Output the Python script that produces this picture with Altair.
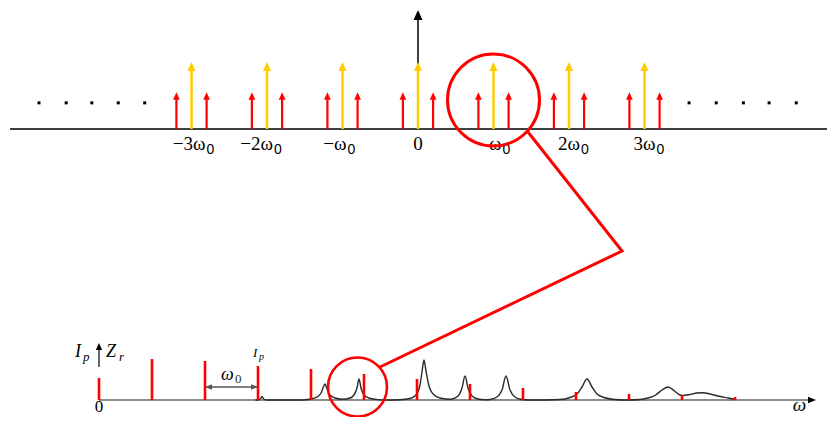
import altair as alt
import pandas as pd

# ---------------- data: upper spectrum (units of omega_0, relative amplitude) ----------
harmonics = [-3, -2, -1, 0, 1, 2, 3]
carrier_amp = [1.0, 1.0, 1.0, 1.0, 1.0, 1.0, 1.0]
sideband_offset = 0.2
sideband_amp = [0.55, 0.55, 0.55, 0.55, 0.55, 0.55, 0.55]
tick_main = ["−3ω", "−2ω", "−ω", "0", "ω", "2ω", "3ω"]
tick_sub = ["0", "0", "0", "", "0", "0", "0"]
dots_left = [-5.02, -4.66, -4.32, -3.97, -3.62]
dots_right = [3.59, 3.95, 4.31, 4.65, 5.01]
dots_level = 0.39

# ---------------- data: lower spectrum (units of omega_0, arbitrary amplitude) ---------
pump_harmonics = [0, 1, 2, 3, 4, 5, 6, 7, 8, 9, 10, 11, 12]
pump_amp = [2.2, 4.1, 3.9, 3.4, 3.1, 2.6, 2.1, 1.6, 1.2, 0.8, 0.6, 0.5, 0.3]
curve_w = [2.95, 3.0, 3.04, 3.075, 3.11, 3.16, 3.80,
           3.887, 4.038, 4.132, 4.189, 4.226, 4.264, 4.302, 4.358, 4.453, 4.585,
           4.736, 4.811, 4.868, 4.906, 4.943, 5.0, 5.094, 5.226, 5.396,
           5.679, 5.868, 5.981, 6.057, 6.094, 6.132, 6.170, 6.226, 6.302, 6.434, 6.623,
           6.66, 6.774, 6.849, 6.906, 6.962, 7.038, 7.151, 7.283,
           7.377, 7.509, 7.604, 7.679, 7.755, 7.849, 7.981, 8.132,
           8.698, 8.887, 9.019, 9.113, 9.208, 9.302, 9.396, 9.528, 9.736, 9.925,
           10.208, 10.358, 10.491, 10.623, 10.736, 10.849, 10.943,
           11.019, 11.151, 11.283, 11.396, 11.528, 11.717, 11.868, 12.0]
curve_a = [0.0, 0.0, 0.1, 0.35, 0.1, 0.0, 0.0,
           0.02, 0.15, 0.35, 0.7, 1.2, 1.6, 1.1, 0.5, 0.2, 0.08,
           0.2, 0.5, 1.2, 2.1, 1.2, 0.5, 0.2, 0.06, 0.0,
           0.03, 0.15, 0.5, 1.5, 2.8, 4.0, 2.9, 1.4, 0.6, 0.2, 0.08,
           0.1, 0.4, 1.2, 2.4, 1.2, 0.4, 0.1, 0.02,
           0.05, 0.3, 1.0, 2.4, 1.0, 0.3, 0.05, 0.0,
           0.05, 0.25, 0.6, 1.3, 2.1, 1.3, 0.6, 0.25, 0.05, 0.0,
           0.05, 0.2, 0.45, 1.0, 1.3, 0.95, 0.55,
           0.45, 0.55, 0.7, 0.73, 0.6, 0.35, 0.2, 0.05]

# ---------------- layout (page pixels) ----------------
PAGE_X = (8, 827)
PAGE_Y = (8, 417)
W, H = PAGE_X[1] - PAGE_X[0], PAGE_Y[1] - PAGE_Y[0]
T_X0, T_PX, T_Y0, T_PY = 418, 75.5, 129, 67.0   # upper diagram origin / pixels per unit
B_X0, B_PX, B_Y0, B_PY = 99, 53.0, 400, 10.0    # lower diagram origin / pixels per unit

top_x = alt.Scale(domain=[(PAGE_X[0] - T_X0) / T_PX, (PAGE_X[1] - T_X0) / T_PX], nice=False, zero=False)
top_y = alt.Scale(domain=[(T_Y0 - PAGE_Y[1]) / T_PY, (T_Y0 - PAGE_Y[0]) / T_PY], nice=False, zero=False)
bot_x = alt.Scale(domain=[(PAGE_X[0] - B_X0) / B_PX, (PAGE_X[1] - B_X0) / B_PX], nice=False, zero=False)
bot_y = alt.Scale(domain=[(B_Y0 - PAGE_Y[1]) / B_PY, (B_Y0 - PAGE_Y[0]) / B_PY], nice=False, zero=False)

RED = "#FF0000"
YEL = "#FFCC00"
HEAD_UP = "M0,-1L0.9,1L-0.9,1Z"
HEAD_RIGHT = "M1,0L-1,-0.8L-1,0.8Z"
HEAD_LEFT = "M-1,0L1,-0.8L1,0.8Z"


def layer_of(df, markfn, sx, sy, x2=False, y2=False, **kw):
    e = dict(x=alt.X("x:Q", scale=sx, axis=None), y=alt.Y("y:Q", scale=sy, axis=None))
    if x2:
        e["x2"] = alt.X2("x2:Q")
    if y2:
        e["y2"] = alt.Y2("y2:Q")
    e.update(kw)
    return markfn(alt.Chart(df)).encode(**e)


layers = []

# ---- upper diagram ----
t_left = (10 - T_X0) / T_PX
t_right = (PAGE_X[1] - T_X0) / T_PX
layers.append(layer_of(pd.DataFrame({"x": [t_left], "x2": [t_right], "y": [0.0]}),
                       lambda c: c.mark_rule(color="black", strokeWidth=1.5), top_x, top_y, x2=True))
# vertical axis arrow
axis_tip = (T_Y0 - 10) / T_PY
layers.append(layer_of(pd.DataFrame({"x": [0.0], "y": [0.0], "y2": [axis_tip - 9 / T_PY]}),
                       lambda c: c.mark_rule(color="black", strokeWidth=1.5), top_x, top_y, y2=True))
layers.append(layer_of(pd.DataFrame({"x": [0.0], "y": [axis_tip - 5 / T_PY]}),
                       lambda c: c.mark_point(shape=HEAD_UP, size=100, filled=True, color="black", opacity=1, strokeWidth=0),
                       top_x, top_y))

# carriers (yellow)
car = pd.DataFrame({"x": harmonics, "y": [0.0] * 7, "y2": [a - 8 / T_PY for a in carrier_amp],
                    "h": [a - 4.5 / T_PY for a in carrier_amp]})
layers.append(layer_of(car, lambda c: c.mark_rule(color=YEL, strokeWidth=2.5), top_x, top_y, y2=True))
layers.append(layer_of(car.assign(y=car["h"]), lambda c: c.mark_point(shape=HEAD_UP, size=81, filled=True, color=YEL, opacity=1, strokeWidth=0),
                       top_x, top_y))

# sidebands (red)
sx_ = [k + s * sideband_offset for k in harmonics for s in (-1, 1)]
sa_ = [a for a in sideband_amp for _ in (-1, 1)]
sb = pd.DataFrame({"x": sx_, "y": [0.0] * len(sx_), "y2": [a - 7 / T_PY for a in sa_],
                   "h": [a - 3.75 / T_PY for a in sa_]})
layers.append(layer_of(sb, lambda c: c.mark_rule(color=RED, strokeWidth=2.2), top_x, top_y, y2=True))
layers.append(layer_of(sb.assign(y=sb["h"]), lambda c: c.mark_point(shape=HEAD_UP, size=56, filled=True, color=RED, opacity=1, strokeWidth=0),
                       top_x, top_y))

# continuation dots
dots = pd.DataFrame({"x": dots_left + dots_right, "y": [dots_level] * 10})
layers.append(layer_of(dots, lambda c: c.mark_square(size=9, color="black", opacity=1), top_x, top_y))

# tick labels
LABEL_NUDGE_PX = [14, 6, 4, 0, 8, 11, 11]
main_rows = [(k + n / T_PX, t) for k, t, n in zip(harmonics, tick_main, LABEL_NUDGE_PX) if t != "0"]
lab_main = pd.DataFrame({"x": [r[0] for r in main_rows], "t": [r[1] for r in main_rows],
                         "y": [(T_Y0 - 150) / T_PY] * len(main_rows)})
layers.append(layer_of(lab_main, lambda c: c.mark_text(align="right", baseline="alphabetic", font="Liberation Serif",
                                                       fontSize=19, color="black"), top_x, top_y, text="t:N"))
sub_rows = [(k + (n + 1) / T_PX, s) for k, s, n in zip(harmonics, tick_sub, LABEL_NUDGE_PX) if s]
lab_sub = pd.DataFrame({"x": [r[0] for r in sub_rows], "t": [r[1] for r in sub_rows],
                        "y": [(T_Y0 - 154) / T_PY] * len(sub_rows)})
layers.append(layer_of(lab_sub, lambda c: c.mark_text(align="left", baseline="alphabetic", font="Liberation Sans",
                                                      fontSize=14, color="black"), top_x, top_y, text="t:N"))
zero_lab = pd.DataFrame({"x": [0.0], "y": [(T_Y0 - 150) / T_PY], "t": ["0"]})
layers.append(layer_of(zero_lab, lambda c: c.mark_text(align="center", baseline="alphabetic", font="Liberation Serif",
                                                       fontSize=19, color="black"), top_x, top_y, text="t:N"))

# ---- lower diagram ----
layers.append(layer_of(pd.DataFrame({"x": [0.0], "x2": [(812 - B_X0) / B_PX], "y": [0.0]}),
                       lambda c: c.mark_rule(color="#666666", strokeWidth=1.5), bot_x, bot_y, x2=True))
layers.append(layer_of(pd.DataFrame({"x": [(812 - B_X0) / B_PX], "y": [0.0]}),
                       lambda c: c.mark_point(shape=HEAD_RIGHT, size=64, filled=True, color="black", opacity=1, strokeWidth=0),
                       bot_x, bot_y))
curve = pd.DataFrame({"x": curve_w, "y": curve_a, "o": list(range(len(curve_w)))})
layers.append(layer_of(curve, lambda c: c.mark_line(color="#2a2a2a", strokeWidth=1.4, interpolate="monotone"),
                       bot_x, bot_y, order="o:Q"))
pump = pd.DataFrame({"x": pump_harmonics, "y": [0.0] * 13, "y2": pump_amp})
layers.append(layer_of(pump, lambda c: c.mark_rule(color=RED, strokeWidth=2.6), bot_x, bot_y, y2=True))

# vertical axis arrow (Ip / Zr)
layers.append(layer_of(pd.DataFrame({"x": [0.0], "y": [3.3], "y2": [5.2]}),
                       lambda c: c.mark_rule(color="black", strokeWidth=1.2), bot_x, bot_y, y2=True))
layers.append(layer_of(pd.DataFrame({"x": [0.0], "y": [5.35]}),
                       lambda c: c.mark_point(shape=HEAD_UP, size=49, filled=True, color="black", opacity=1, strokeWidth=0),
                       bot_x, bot_y))
# omega_0 spacing arrow
layers.append(layer_of(pd.DataFrame({"x": [2.0], "x2": [3.0], "y": [1.3]}),
                       lambda c: c.mark_rule(color="#555555", strokeWidth=1.5), bot_x, bot_y, x2=True))
layers.append(layer_of(pd.DataFrame({"x": [2.0 + 3.5 / B_PX], "y": [1.3]}),
                       lambda c: c.mark_point(shape=HEAD_LEFT, size=49, filled=True, color="#555555", opacity=1, strokeWidth=0),
                       bot_x, bot_y))
layers.append(layer_of(pd.DataFrame({"x": [3.0 - 3.5 / B_PX], "y": [1.3]}),
                       lambda c: c.mark_point(shape=HEAD_RIGHT, size=49, filled=True, color="#555555", opacity=1, strokeWidth=0),
                       bot_x, bot_y))

# lower texts
it_main = pd.DataFrame({"x": [-0.453, 0.132, 2.906, 2.302, 13.09],
                        "y": [4.3, 4.3, 4.3, 2.0, -1.1],
                        "t": ["I", "Z", "I", "ω", "ω"],
                        "fs": [18, 18, 13, 18, 19]})
layers.append(layer_of(it_main, lambda c: c.mark_text(align="left", baseline="alphabetic", font="Liberation Serif",
                                                      fontStyle="italic", color="black"),
                       bot_x, bot_y, text="t:N", size=alt.Size("fs:Q", scale=None)))
it_sub = pd.DataFrame({"x": [-0.30, 0.377, 3.02],
                       "y": [3.95, 3.95, 4.05],
                       "t": ["p", "r", "p"],
                       "fs": [13, 13, 10]})
layers.append(layer_of(it_sub, lambda c: c.mark_text(align="left", baseline="alphabetic", font="Liberation Serif",
                                                     fontStyle="italic", color="black"),
                       bot_x, bot_y, text="t:N", size=alt.Size("fs:Q", scale=None)))
up_txt = pd.DataFrame({"x": [2.566, 0.0], "y": [1.7, -1.15], "t": ["0", "0"], "fs": [13, 17]})
layers.append(layer_of(up_txt.iloc[:1], lambda c: c.mark_text(align="left", baseline="alphabetic", font="Liberation Serif",
                                                              color="#333333"),
                       bot_x, bot_y, text="t:N", size=alt.Size("fs:Q", scale=None)))
layers.append(layer_of(up_txt.iloc[1:], lambda c: c.mark_text(align="center", baseline="alphabetic", font="Liberation Serif",
                                                              color="black"),
                       bot_x, bot_y, text="t:N", size=alt.Size("fs:Q", scale=None)))

# ---- zoom annotation: circles and connector ----
layers.append(layer_of(pd.DataFrame({"x": [1.0], "y": [(T_Y0 - 100) / T_PY]}),
                       lambda c: c.mark_point(shape="circle", size=92 * 92, filled=False, color=RED, opacity=1, strokeWidth=3),
                       top_x, top_y))
layers.append(layer_of(pd.DataFrame({"x": [(357.5 - B_X0) / B_PX], "y": [1.3]}),
                       lambda c: c.mark_point(shape="circle", size=59 * 59, filled=False, color=RED, opacity=1, strokeWidth=2.6),
                       bot_x, bot_y))
conn_px = [(528, 132), (622, 251), (380, 367)]
conn = pd.DataFrame({"x": [(p[0] - T_X0) / T_PX for p in conn_px],
                     "y": [(T_Y0 - p[1]) / T_PY for p in conn_px],
                     "o": [0, 1, 2]})
layers.append(layer_of(conn, lambda c: c.mark_line(color=RED, strokeWidth=3, strokeJoin="miter"), top_x, top_y, order="o:Q"))

chart = alt.layer(*layers).resolve_scale(x="independent", y="independent").properties(
    width=W, height=H, padding=0, autosize=alt.AutoSizeParams(type="none")
).configure_view(stroke=None)

chart.save("out.html", embed_options={"renderer": "svg", "actions": False})
